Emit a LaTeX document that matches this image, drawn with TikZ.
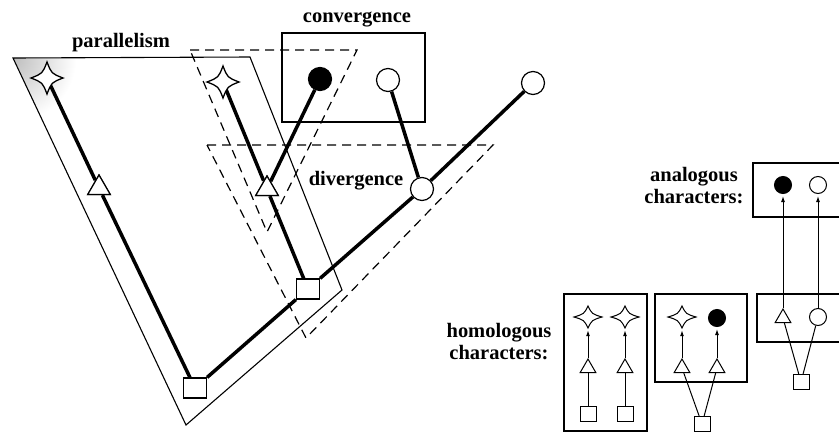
\documentclass[tikz,border=0pt]{standalone}
\usepackage{fontspec}
\setmainfont{Liberation Serif}
\usetikzlibrary{shapes.geometric,arrows.meta}
% sparkle star drawn around a named anchor node: name, half-width, half-height, line width
\newcommand{\sparklestar}[4]{%
  \draw[fill=white, line width=#4, line join=miter, shift={(#1.center)}]
    (0,-#3) .. controls (0.28*#2,-0.28*#3) .. (#2,0)
            .. controls (0.28*#2,0.28*#3) .. (0,#3)
            .. controls (-0.28*#2,0.28*#3) .. (-#2,0)
            .. controls (-0.28*#2,-0.28*#3) .. cycle;}
\begin{document}
\begin{tikzpicture}[x=1pt,y=-1pt,
  thickline/.style={line width=3.5pt},
  frame/.style={line width=1.1pt},
  dashframe/.style={line width=1.2pt, dash pattern=on 9pt off 6pt},
  lbl/.style={font=\fontsize{20.5}{22}\selectfont\bfseries, inner sep=0pt},
  bigstar/.style={circle, minimum size=12pt, inner sep=0pt},
  bigtri/.style={regular polygon, regular polygon sides=3, minimum size=26pt, draw, line width=1.2pt, fill=white, inner sep=0pt},
  bigsq/.style={rectangle, minimum width=23pt, minimum height=20pt, draw, line width=1.2pt, fill=white, inner sep=0pt},
  bigcirc/.style={circle, minimum size=23pt, draw, line width=1.2pt, fill=white, inner sep=0pt},
  bigdot/.style={bigcirc, fill=black},
  smstar/.style={circle, minimum size=22pt, inner sep=0pt},
  smtri/.style={regular polygon, regular polygon sides=3, minimum size=18pt, draw, line width=1pt, fill=white, inner sep=0pt},
  smsq/.style={rectangle, minimum width=16pt, minimum height=15pt, draw, line width=1pt, fill=white, inner sep=0pt},
  smcirc/.style={circle, minimum size=17pt, draw, line width=1pt, fill=white, inner sep=0pt},
  smdot/.style={smcirc, fill=black},
  thin/.style={line width=1pt},
  arr/.style={line width=1pt, -{Latex[length=6pt,width=4pt]}, shorten >=2pt}
]
\useasboundingbox (0,0) rectangle (839,432);
\clip (0,0) rectangle (839,432);
\fill[white] (0,0) rectangle (839,432);

% shading in corner of parallelism frame
\begin{scope}
  \clip (13,58) -- (250,57) -- (342,290) -- (186,425) -- cycle;
  \shade[inner color=gray!50, outer color=white] (14,59) circle (62);
\end{scope}

% frames
\draw[frame] (13,58) -- (250,57) -- (342,290) -- (186,425) -- cycle;
\draw[frame] (282,33) rectangle (425,122);
\draw[dashframe] (190,50) -- (357,50) -- (267,232) -- cycle;
\draw[dashframe] (207,145) -- (493,145) -- (306,338) -- cycle;

% labels
\node[lbl] (plab) at (121,43) {parallelism};
\node[lbl] (clab) at (357,19) {convergence};
\node[lbl] (dlab) at (356,181) {divergence};
\node[lbl, align=center] (alab) at (694,186) {analogous\\characters:};
\node[lbl, align=center] (hlab) at (499,342) {homologous\\characters:};

% main tree nodes
\node[bigsq] (R) at (195,388) {};
\node[bigsq] (S2) at (308,289) {};
\node[bigcirc] (D) at (422,189) {};
\node[bigcirc] (T) at (533,83) {};
\node[bigtri] (L2) at (99,188) {};
\node[bigstar] (L1) at (47,78) {};
\node[bigtri] (M2) at (267,189) {};
\node[bigstar] (M1) at (223,82) {};
\node[bigdot] (B) at (320,79) {};
\node[bigcirc] (O) at (388,80) {};

\draw[thickline] (R) -- (S2);
\draw[thickline] (S2) -- (D);
\draw[thickline] (D) -- (T);
\draw[thickline] (R) -- (L2);
\draw[thickline] (L2) -- (L1);
\draw[thickline] (S2) -- (M2);
\draw[thickline] (M2) -- (M1);
\draw[thickline] (M2) -- (B);
\draw[thickline] (D) -- (O);
\node[bigtri] at (L2) {};
\node[bigtri] at (M2) {};
\sparklestar{L1}{16}{16}{1.3pt}
\sparklestar{M1}{16}{16}{1.3pt}

% right side frames
\draw[frame] (564,294) rectangle (647,431);
\draw[frame] (655,294) rectangle (747,382);
\draw[frame] (757,294) rectangle (860,342);
\draw[frame] (753,163) rectangle (860,217);

% homologous box 1
\node[smstar] (h1s) at (588,317) {};
\node[smtri] (h1t) at (588,368) {};
\node[smsq] (h1q) at (588,414) {};
\node[smstar] (h2s) at (625,317) {};
\node[smtri] (h2t) at (625,368) {};
\node[smsq] (h2q) at (625,414) {};
\draw[thin] (h1q) -- (h1t);
\draw[arr] (h1t) -- (h1s);
\draw[thin] (h2q) -- (h2t);
\draw[arr] (h2t) -- (h2s);
\sparklestar{h1s}{14}{11}{1pt}
\sparklestar{h2s}{14}{11}{1pt}

% homologous box 2
\node[smstar] (k1s) at (682,317) {};
\node[smdot] (k2c) at (717,318) {};
\node[smtri] (k1t) at (682,368) {};
\node[smtri] (k2t) at (717,368) {};
\node[smsq] (kq) at (702,424) {};
\draw[thin] (kq) -- (k1t);
\draw[thin] (kq) -- (k2t);
\draw[arr] (k1t) -- (k1s);
\draw[arr] (k2t) -- (k2c);
\sparklestar{k1s}{14}{11}{1pt}

% analogous
\node[smdot] (a1) at (783,185) {};
\node[smcirc] (a2) at (818,185) {};
\node[smtri] (g1) at (783,318) {};
\node[smcirc] (g2) at (818,317) {};
\node[smsq] (gq) at (801,382) {};
\draw[thin] (gq) -- (g1);
\draw[thin] (gq) -- (g2);
\draw[arr] (g1) -- (a1);
\draw[arr] (g2) -- (a2);
\end{tikzpicture}
\end{document}
